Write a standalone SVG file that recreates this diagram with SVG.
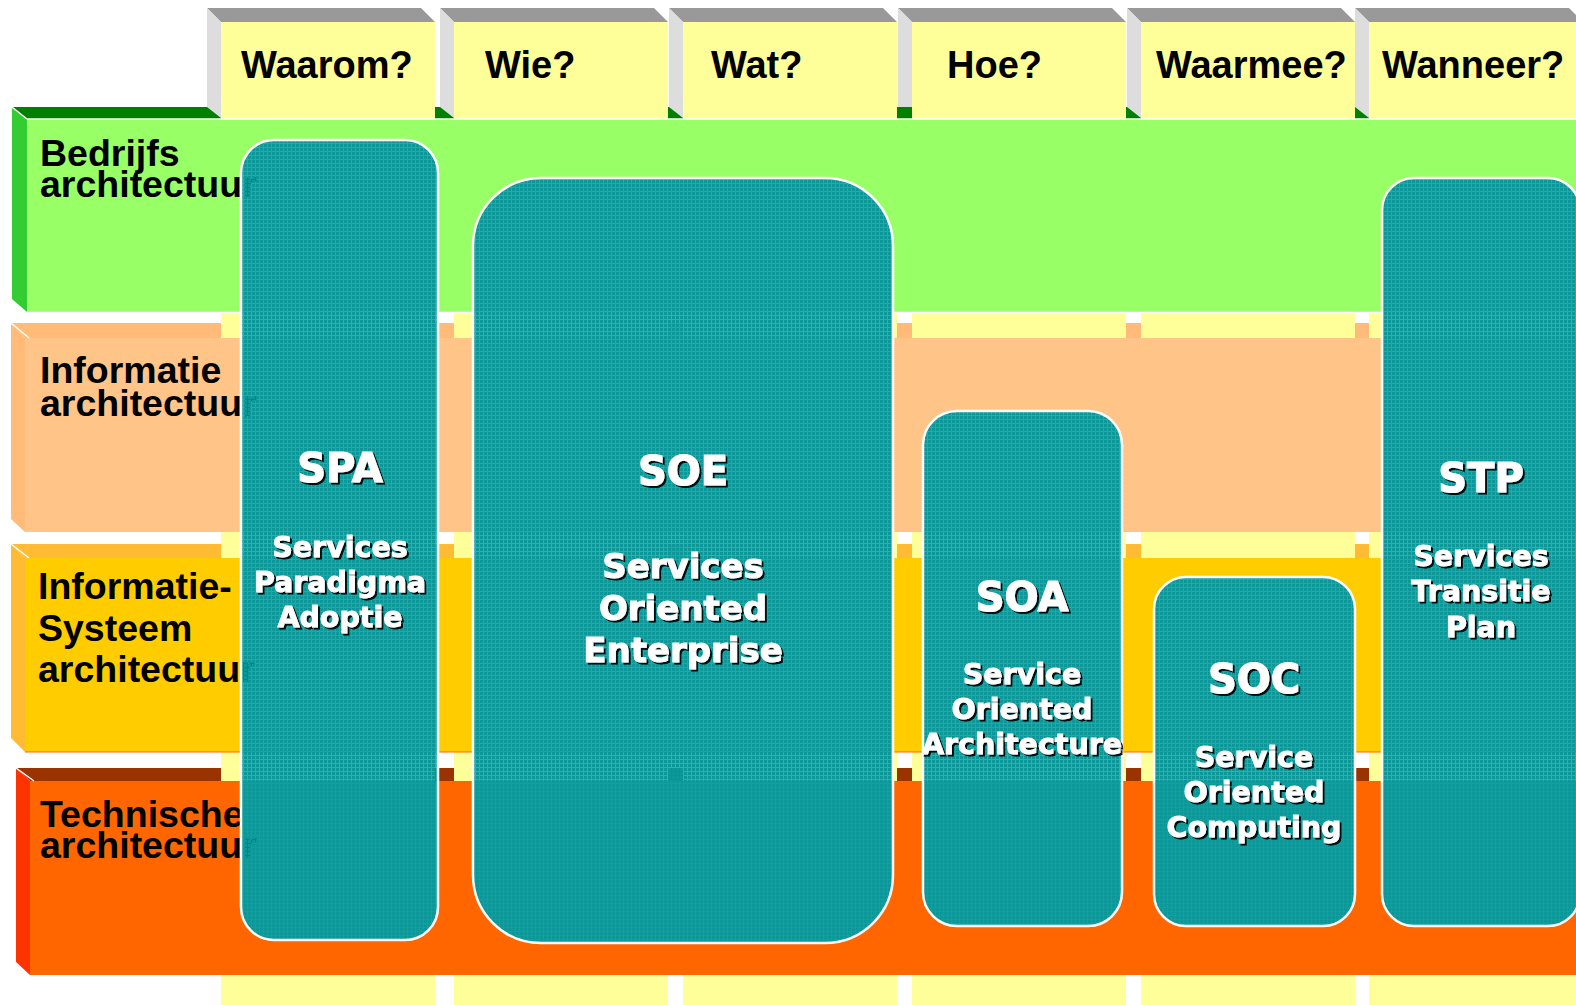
<svg xmlns="http://www.w3.org/2000/svg" width="1576" height="1005" viewBox="0 0 1576 1005">
<defs>
<pattern id="tex" width="4" height="4" patternUnits="userSpaceOnUse">
<rect width="4" height="4" fill="#119a9a" fill-opacity="0.82"/>
<rect width="3" height="3" fill="#0c9898"/>
</pattern>
<filter id="sh" x="-10%" y="-20%" width="130%" height="150%">
<feDropShadow dx="2" dy="2" stdDeviation="0.4" flood-color="#000" flood-opacity="0.9"/>
</filter>
</defs>
<style>
.ctop{fill:#999999}
.cside{fill:#dddddd}
.cface{fill:#ffff99}
.hdr{font-family:"Liberation Sans",Arial,sans-serif;font-weight:bold;font-size:38px;fill:#000}
.lbl{font-family:"Liberation Sans",Arial,sans-serif;font-weight:bold;font-size:37.5px;fill:#000}
.box{fill:url(#tex);stroke:#ffffff;stroke-width:2.5}
.big{font-family:"DejaVu Sans",Verdana,sans-serif;font-weight:bold;font-size:40px;fill:#fff;stroke:#fff;stroke-width:1.2;text-anchor:middle;filter:url(#sh)}
.sub{font-family:"DejaVu Sans",Verdana,sans-serif;font-weight:bold;font-size:28.5px;fill:#fff;stroke:#fff;stroke-width:0.9;text-anchor:middle;filter:url(#sh)}
.sub2{font-family:"DejaVu Sans",Verdana,sans-serif;font-weight:bold;font-size:34px;fill:#fff;stroke:#fff;stroke-width:1;text-anchor:middle;filter:url(#sh)}
.edge{stroke:#ffffff;stroke-width:1.5;fill:none}
</style>
<rect width="1576" height="1005" fill="#ffffff"/>

<!-- row top bands (behind columns) -->
<g id="row-bands">
<polygon points="12,107 1576,107 1576,119 27,119" fill="#008000"/>
<polygon points="11,323 1576,323 1576,338 25,338" fill="#ffbb77"/>
<polygon points="11,544 1576,544 1576,558 25,558" fill="#ffbb33"/>
<polygon points="16,768 1576,768 1576,781 30,781" fill="#993300"/>
</g>

<!-- columns -->
<g id="col-waarom">
<polygon class="ctop" points="207,8 421,8 435,22 221,22"/>
<polygon class="cside" points="207,8 221,22 221,118 207,107"/>
<rect class="cface" x="221" y="22" width="214" height="983"/>
<text class="hdr" x="241" y="78">Waarom?</text>
</g>
<g id="col-wie">
<polygon class="ctop" points="440,8 654,8 668,22 454,22"/>
<polygon class="cside" points="440,8 454,22 454,118 440,107"/>
<rect class="cface" x="454" y="22" width="214" height="983"/>
<text class="hdr" x="485" y="78">Wie?</text>
</g>
<g id="col-wat">
<polygon class="ctop" points="669,8 883,8 897,22 683,22"/>
<polygon class="cside" points="669,8 683,22 683,118 669,107"/>
<rect class="cface" x="683" y="22" width="214" height="983"/>
<text class="hdr" x="711" y="78">Wat?</text>
</g>
<g id="col-hoe">
<polygon class="ctop" points="898,8 1112,8 1126,22 912,22"/>
<polygon class="cside" points="898,8 912,22 912,107 898,107"/>
<rect class="cface" x="912" y="22" width="214" height="983"/>
<text class="hdr" x="947" y="78">Hoe?</text>
</g>
<g id="col-waarmee">
<polygon class="ctop" points="1127,8 1341,8 1355,22 1141,22"/>
<polygon class="cside" points="1127,8 1141,22 1141,118 1127,107"/>
<rect class="cface" x="1141" y="22" width="214" height="983"/>
<text class="hdr" x="1156" y="78">Waarmee?</text>
</g>
<g id="col-wanneer">
<polygon class="ctop" points="1355,8 1569,8 1583,22 1369,22"/>
<polygon class="cside" points="1355,8 1369,22 1369,118 1355,107"/>
<rect class="cface" x="1369" y="22" width="214" height="983"/>
<text class="hdr" x="1382" y="78">Wanneer?</text>
</g>

<!-- rows -->
<g id="row-bedrijfs">
<polygon points="12,107 27,119 27,312 12,299" fill="#33cc33"/>
<rect x="27" y="119" width="1560" height="193" fill="#99ff66"/>
<line class="edge" x1="12" y1="107" x2="27" y2="119"/>
<line class="edge" x1="27" y1="119" x2="1576" y2="119"/>
<line class="edge" x1="27" y1="312.5" x2="1576" y2="312.5"/>
<text class="lbl" x="40" y="166">Bedrijfs</text>
<text class="lbl" x="40" y="197">architectuur</text>
</g>
<g id="row-informatie">
<polygon points="11,323 25,338 25,532 11,519" fill="#ffbb77"/>
<rect x="25" y="338" width="1560" height="194" fill="#ffc488"/>
<line class="edge" x1="11" y1="323" x2="29" y2="338"/>
<text class="lbl" x="40" y="383">Informatie</text>
<text class="lbl" x="40" y="416">architectuur</text>
</g>
<g id="row-is">
<polygon points="11,544 25,558 25,752 11,738" fill="#ffbb33"/>
<rect x="25" y="558" width="1560" height="194" fill="#ffcc00"/>
<line x1="25" y1="752" x2="1576" y2="752" stroke="#ff6600" stroke-width="1.2"/>
<line class="edge" x1="11" y1="544" x2="29" y2="558"/>
<text class="lbl" x="38" y="599">Informatie-</text>
<text class="lbl" x="38" y="641">Systeem</text>
<text class="lbl" x="38" y="682">architectuur</text>
</g>
<g id="row-technische">
<polygon points="16,768 30,781 30,975 16,962" fill="#ff3300"/>
<rect x="30" y="781" width="1560" height="194" fill="#ff6600"/>
<line class="edge" x1="16" y1="768" x2="34" y2="781"/>
<text class="lbl" x="40" y="827">Technische</text>
<text class="lbl" x="40" y="858">architectuur</text>
</g>

<!-- service boxes -->
<g id="node-spa">
<rect class="box" x="241" y="140" width="197" height="800" rx="33" ry="33"/>
<text class="big" x="340" y="482">SPA</text>
<text class="sub" x="340" y="557">Services</text>
<text class="sub" x="340" y="592">Paradigma</text>
<text class="sub" x="340" y="627">Adoptie</text>
</g>
<g id="node-soe">
<rect class="box" x="473" y="178" width="420" height="765" rx="68" ry="68"/>
<text class="big" x="683" y="485">SOE</text>
<text class="sub2" x="683" y="578">Services</text>
<text class="sub2" x="683" y="620">Oriented</text>
<text class="sub2" x="683" y="662">Enterprise</text>
</g>
<g id="node-soa">
<rect class="box" x="923" y="411" width="199" height="515" rx="34" ry="34"/>
<text class="big" x="1022" y="611">SOA</text>
<text class="sub" x="1022" y="684">Service</text>
<text class="sub" x="1022" y="719">Oriented</text>
<text class="sub" x="1022" y="754">Architecture</text>
</g>
<g id="node-soc">
<rect class="box" x="1154" y="577" width="201" height="349" rx="32" ry="32"/>
<text class="big" x="1254" y="693">SOC</text>
<text class="sub" x="1254" y="767">Service</text>
<text class="sub" x="1254" y="802">Oriented</text>
<text class="sub" x="1254" y="837">Computing</text>
</g>
<g id="node-stp">
<rect class="box" x="1382" y="178" width="198" height="748" rx="32" ry="32"/>
<text class="big" x="1481" y="492">STP</text>
<text class="sub" x="1481" y="566">Services</text>
<text class="sub" x="1481" y="601">Transitie</text>
<text class="sub" x="1481" y="637">Plan</text>
</g>
<g id="connectors"/>
</svg>
